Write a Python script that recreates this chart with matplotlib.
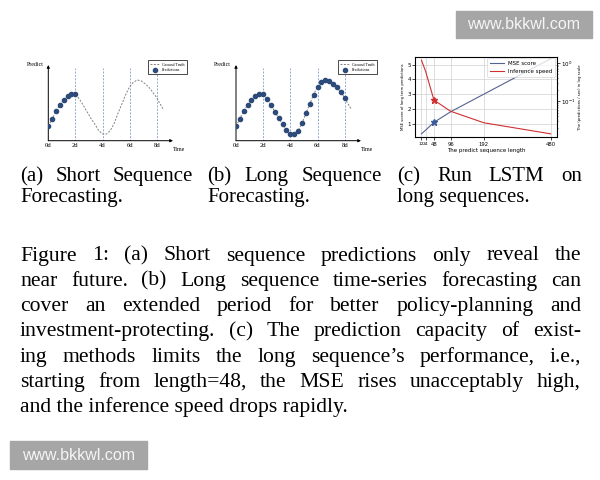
import numpy as np
import matplotlib.pyplot as plt
from matplotlib.patches import Rectangle

# forecasting panels (a), (b): time in days, value in arbitrary units
pred_days = [0, 0.29, 0.57, 0.86, 1.14, 1.43, 1.71, 2.0, 2.29, 2.57, 2.86, 3.14, 3.43, 3.71,
             4.0, 4.29, 4.57, 4.86, 5.14, 5.43, 5.71, 6.0, 6.29, 6.57, 6.86, 7.14, 7.43, 7.71, 8.0]
pred_vals = [1.94, 2.91, 3.88, 4.76, 5.37, 5.86, 6.12, 6.12, 5.51, 4.71, 3.83, 2.96, 2.20, 1.37,
             0.88, 0.88, 1.32, 2.29, 3.61, 4.85, 6.08, 7.14, 7.75, 8.02, 7.89, 7.53, 7.05, 6.39, 5.68]
gt_days = pred_days + [8.25, 8.5]
gt_vals = pred_vals + [4.85, 4.1]
short_count = 8
day_ticks = [0, 2, 4, 6, 8]
day_labels = ["0d", "2d", "4d", "6d", "8d"]

# panel (c): LSTM on long sequences
seq_len = [12, 24, 48, 96, 192, 480]
mse_score = [0.3, 0.55, 1.08, 1.8, 3.0, 5.4]
infer_speed = [1.17, 0.60, 0.106, 0.054, 0.027, 0.0139]
mark_len = 48

subcaptions = [
    ("(a) Short Sequence", "Forecasting."),
    ("(b) Long Sequence", "Forecasting."),
    ("(c) Run LSTM on", "long sequences."),
]
caption_lines = [
    "Figure 1: (a) Short sequence predictions only reveal the",
    "near future. (b) Long sequence time-series forecasting can",
    "cover an extended period for better policy-planning and",
    "investment-protecting. (c) The prediction capacity of exist-",
    "ing methods limits the long sequence\u2019s performance, i.e.,",
    "starting from length=48, the MSE rises unacceptably high,",
    "and the inference speed drops rapidly.",
]
watermark = "www.bkkwl.com"

W, H = 600, 480
serif = "Liberation Serif"
fig = plt.figure(figsize=(6, 4.8), dpi=100)


def px_box(l, t, r, b):
    return [l / W, 1 - b / H, (r - l) / W, (b - t) / H]


def draw_forecast(ax, n_pred, leg_x):
    ax.set_xlim(0, 9.2)
    ax.set_ylim(0, 10)
    for s in ax.spines.values():
        s.set_visible(False)
    arrow = dict(arrowstyle="-|>", lw=0.7, color="k", mutation_scale=4, shrinkA=0, shrinkB=0)
    ax.annotate("", xy=(1, 0), xytext=(0, 0), xycoords="axes fraction", arrowprops=arrow)
    ax.annotate("", xy=(0, 1), xytext=(0, 0), xycoords="axes fraction", arrowprops=arrow)
    ax.vlines(day_ticks[1:], 0, 9.56, colors="#8eaad0", linestyles=(0, (2, 1.5)), lw=0.7)
    ax.plot(gt_days, gt_vals, color="#808080", ls=(0, (2, 1.5)), lw=0.7, label="Ground Truth")
    ax.plot(pred_days[:n_pred], pred_vals[:n_pred], "o", ms=3, color="#2c4a7a",
            label="Predictions", zorder=3)
    ax.set_xticks(day_ticks, day_labels, fontsize=4.8, family=serif)
    ax.tick_params(axis="x", length=0, pad=2)
    ax.set_yticks([])
    ax.text(-0.04, 1.01, "Predict", transform=ax.transAxes, ha="right", va="center",
            fontsize=4.2, family=serif)
    ax.text(1.0, -0.115, "Time", transform=ax.transAxes, ha="left", va="center",
            fontsize=4.2, family=serif)
    leg = ax.legend(loc="upper right", bbox_to_anchor=(leg_x, 1.06),
                    prop={"family": serif, "size": 3}, fancybox=False, edgecolor="k",
                    borderaxespad=0, handlelength=2.2, borderpad=0.5, labelspacing=0.4,
                    handletextpad=0.6, framealpha=1)
    leg.get_frame().set_linewidth(0.5)


ax_a = fig.add_axes(px_box(48.3, 65, 173, 140.7))
draw_forecast(ax_a, short_count, 1.11)
ax_b = fig.add_axes(px_box(236, 65, 361, 140.7))
draw_forecast(ax_b, len(pred_days), 1.125)

# panel (c)
ax_c = fig.add_axes(px_box(415, 56.5, 557, 137.5))
fwd = lambda x: np.where(x <= 192, x, 192 + (x - 192) * 2 / 3)
inv = lambda y: np.where(y <= 192, y, 192 + (y - 192) * 1.5)
ax_c.set_xscale("function", functions=(fwd, inv))
blue, red = "#56628f", "#d03030"
idx = seq_len.index(mark_len)
l1, = ax_c.plot(seq_len, mse_score, color=blue, lw=0.8, label="MSE score")
ax_c.plot([mark_len], [mse_score[idx]], "*", ms=5, color="#3b5a9a", zorder=4)
ax_c.set_ylim(0.05, 5.56)
ax_c.set_yticks([1, 2, 3, 4, 5])
ax_c.set_xticks(seq_len, [str(v) for v in seq_len])
ax_c.grid(color="#d0d0d0", lw=0.5)
ax_c.tick_params(labelsize=4, length=2, width=0.5, pad=1)
ax_c.tick_params(axis="x", labelsize=3.8)
for lab in ax_c.get_xticklabels()[:2]:
    lab.set_fontsize(3.1)
ax_c.set_xlabel("The predict sequence length", fontsize=4, labelpad=1)
ax_c.set_ylabel("MSE score of long term predictions", fontsize=2.7, labelpad=2)
for s in ax_c.spines.values():
    s.set_linewidth(0.6)

ax_r = ax_c.twinx()
ax_r.set_yscale("log")
l2, = ax_r.plot(seq_len, infer_speed, color=red, lw=0.8, label="Inference speed")
ax_r.plot([mark_len], [infer_speed[idx]], "*", ms=5, color=red, zorder=4)
ax_r.tick_params(labelsize=4, length=2, width=0.5, pad=1)
ax_r.tick_params(which="minor", length=1, width=0.4)
ax_r.set_ylabel("The (predictions / sec) in log scale", fontsize=2.7, labelpad=2)
leg = ax_r.legend([l1, l2], ["MSE score", "Inference speed"], loc="upper right", fontsize=4,
                  borderaxespad=0.3, handlelength=2.5, borderpad=0.5, labelspacing=0.6)
leg.get_frame().set_linewidth(0.5)

# captions
renderer = fig.canvas.get_renderer()


def justify_line(text, x0, x1, y, size):
    words = text.split(" ")
    texts = [fig.text(0, 1 - y / H, w, fontsize=size, family=serif, va="baseline")
             for w in words]
    widths = [t.get_window_extent(renderer).width for t in texts]
    gap = (x1 - x0 - sum(widths)) / (len(words) - 1)
    x = x0
    for t, w in zip(texts, widths):
        t.set_x(x / W)
        x += w + gap


def left_line(text, x0, y, size):
    fig.text(x0 / W, 1 - y / H, text, fontsize=size, family=serif, va="baseline")


sub_spans = [(20, 193), (207, 382), (397, 582)]
for (first, second), (x0, x1) in zip(subcaptions, sub_spans):
    justify_line(first, x0, x1, 181, 15)
    left_line(second, x0, 202, 15)

for i, line in enumerate(caption_lines):
    y = 260.5 + 25.3 * i
    if i < len(caption_lines) - 1:
        justify_line(line, 20, 581, y, 15.6)
    else:
        left_line(line, 20, y, 15.6)

# watermarks
for (l, t, r, b) in [(456, 11, 592, 38), (10, 441, 147, 469)]:
    fig.patches.append(Rectangle((l / W, 1 - b / H), (r - l) / W, (b - t) / H,
                                 transform=fig.transFigure, color="#a6a6a6", zorder=0))
    fig.text((l + r) / 2 / W, 1 - (t + b) / 2 / H, watermark, ha="center", va="center",
             color="#f5f5f5", fontsize=11.5, family="Liberation Sans")

fig.savefig("out.png", dpi=100)
